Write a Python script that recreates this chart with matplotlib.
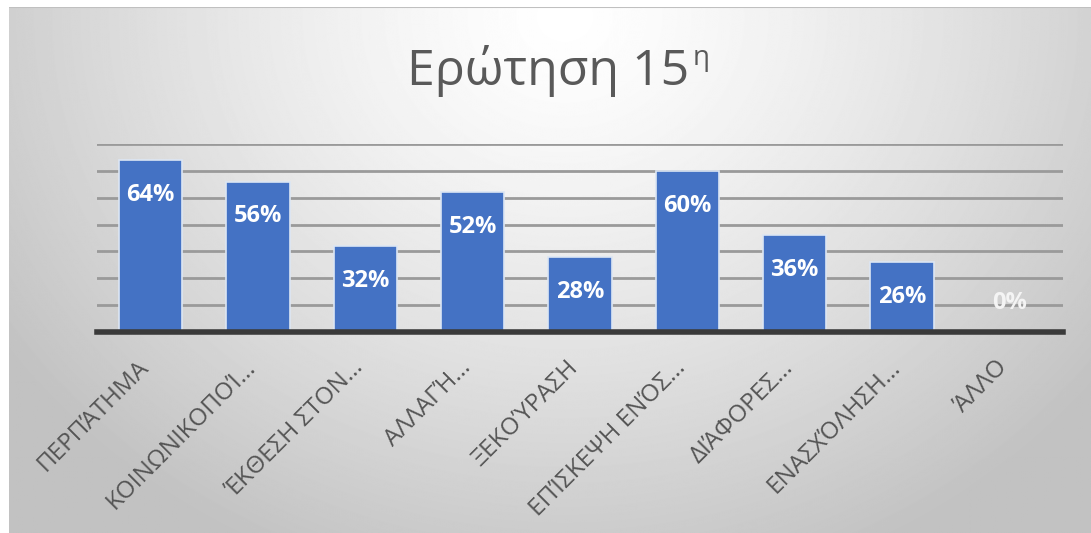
import matplotlib.pyplot as plt
import matplotlib.transforms as mtransforms
import numpy as np

plt.rcParams['font.family'] = ['Open Sans', 'DejaVu Sans']

categories = ["ΠΕΡΠΆΤΗΜΑ", "ΚΟΙΝΩΝΙΚΟΠΟΊ…", "ΈΚΘΕΣΗ ΣΤΟΝ…", "ΑΛΛΑΓΉ…",
              "ΞΕΚΟΎΡΑΣΗ", "ΕΠΊΣΚΕΨΗ ΕΝΌΣ…", "ΔΙΆΦΟΡΕΣ…", "ΕΝΑΣΧΌΛΗΣΗ…", "ΆΛΛΟ"]
values = [0.64, 0.56, 0.32, 0.52, 0.28, 0.60, 0.36, 0.26, 0.0]

W, H = 1091, 533
fig = plt.figure(figsize=(W / 100, H / 100), dpi=100)
fig.patch.set_facecolor('white')

# radial grey gradient behind the chart
bg = fig.add_axes([9 / W, 0, 1 - 9 / W, 1 - 7 / H])
yy, xx = np.mgrid[0:H, 0:W]
r = np.sqrt(((xx - 560) / 680.0) ** 2 + ((yy - 10) / 600.0) ** 2)
r = np.clip(r, 0, 1)
shade = 1.0 - 0.24 * r ** 1.3
bg.imshow(shade, cmap='gray', vmin=0, vmax=1, aspect='auto', interpolation='bilinear')
bg.set_axis_off()
bg.axhline(0, color='#c0c0c0', lw=1.5)

ax = fig.add_axes([97 / W, 1 - 332 / H, (1063 - 97) / W, (332 - 144) / H])
ax.patch.set_alpha(0)
x = np.arange(len(categories))
ax.bar(x, values, width=0.59, color='#4472C4', edgecolor='#dce6f4', linewidth=1.2, zorder=3)

ax.set_xlim(-0.5, len(categories) - 0.5)
ax.set_ylim(0, 0.70)
ax.set_yticks(np.arange(0.1, 0.71, 0.1))
ax.yaxis.grid(True, color='#9a9a9a', lw=2, zorder=0)
ax.tick_params(axis='y', left=False, labelleft=False)
ax.tick_params(axis='x', length=0, pad=17)
for s in ['top', 'right', 'left']:
    ax.spines[s].set_visible(False)
ax.spines['bottom'].set_color('#3a3a3a')
ax.spines['bottom'].set_linewidth(4)
ax.spines['bottom'].set_zorder(4)

ax.set_xticks(x)
ax.set_xticklabels(categories, rotation=45, ha='right', va='top', rotation_mode='anchor',
                   fontsize=17.5, color='#555555')
shift = mtransforms.ScaledTranslation(-10 / 72, 0, fig.dpi_scale_trans)
for lab in ax.get_xticklabels():
    lab.set_transform(lab.get_transform() + shift)

for xi, v in zip(x, values):
    if v > 0:
        ax.annotate(f"{v:.0%}", (xi, v), xytext=(0, -25), textcoords='offset points',
                    ha='center', va='center', fontsize=17, fontweight='bold', color='white', zorder=5)
    else:
        ax.annotate(f"{v:.0%}", (xi, v), xytext=(0, 21), textcoords='offset points',
                    ha='center', va='center', fontsize=17, fontweight='bold', color='#f4f4f4', zorder=5)

title = fig.text(0.5 + 3 / W, 1 - 71 / H, "Ερώτηση 15", ha='center', va='center', fontsize=36, color='#595959')
fig.canvas.draw()
tb = title.get_window_extent()
fig.text((tb.x1 + 3) / W, 1 - 58 / H, "η", ha='left', va='center', fontsize=20, color='#595959')

fig.savefig('out.png', dpi=100)
